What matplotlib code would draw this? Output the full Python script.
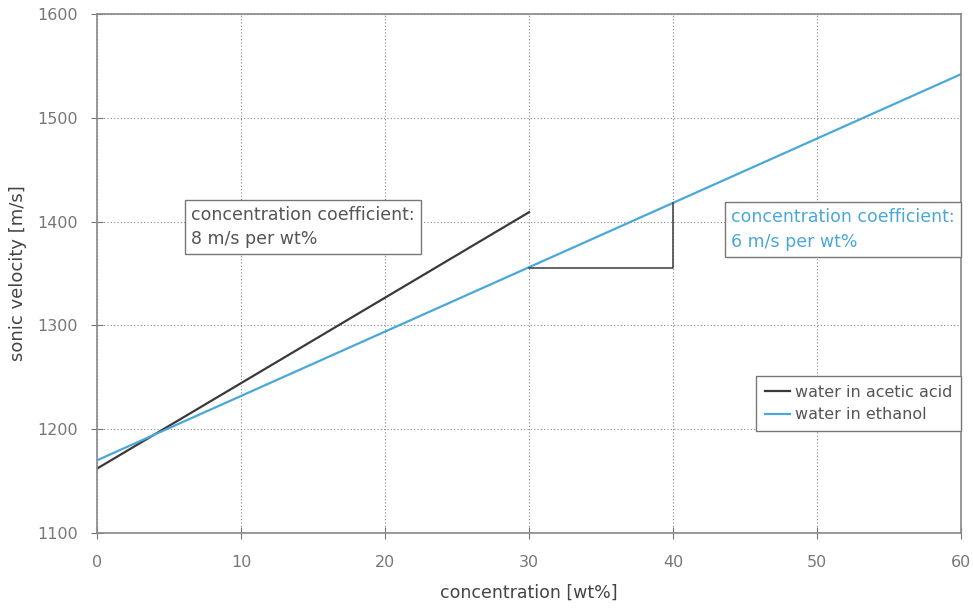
import matplotlib
matplotlib.use("Agg")
import matplotlib.pyplot as plt

acetic_x = [0, 30]
acetic_y = [1162, 1409]
ethanol_x = [0, 60]
ethanol_y = [1170, 1542]
tri_x = [30, 40, 40]
tri_y = [1355, 1355, 1418]
xticks = [0, 10, 20, 30, 40, 50, 60]
yticks = [1100, 1200, 1300, 1400, 1500, 1600]

plt.rcParams['font.family'] = ['DejaVu Sans']
grey = '#777777'
blue = '#4aa8d8'
dark = '#3a3a3a'

fig = plt.figure(figsize=(9.73, 6.08), dpi=100)
ax = fig.add_axes([0.0997, 0.1234, 0.888, 0.8536])
ax.plot(acetic_x, acetic_y, color=dark, lw=1.6, label='water in acetic acid')
ax.plot(ethanol_x, ethanol_y, color=blue, lw=1.6, label='water in ethanol')
ax.plot(tri_x, tri_y, color=dark, lw=1.1)

ax.set_xlim(0, 60)
ax.set_ylim(1100, 1600)
ax.set_xticks(xticks)
ax.set_yticks(yticks)
ax.grid(True, color='#888888', linestyle=(0, (1, 2)), lw=0.8)
ax.tick_params(direction='inout', length=8, color=grey, labelcolor=grey, labelsize=11.5)
ax.tick_params(axis='x', pad=12)
ax.tick_params(axis='y', pad=10)
for s in ax.spines.values():
    s.set_color('#888888')
    s.set_linewidth(1.2)

ax.set_xlabel('concentration [wt%]', color='#444444', fontsize=12.5, labelpad=10)
ax.set_ylabel('sonic velocity [m/s]', color='#444444', fontsize=13, labelpad=7)

bbox = dict(boxstyle='square,pad=0.35', fc='white', ec='#777777', lw=1.0)
ax.text(6.55, 1395, 'concentration coefficient:\n8 m/s per wt%', color='#555555',
        fontsize=12.5, va='center', ha='left', bbox=bbox, linespacing=1.45)
ax.text(44.05, 1392, 'concentration coefficient:\n6 m/s per wt%', color=blue,
        fontsize=12.5, va='center', ha='left', bbox=bbox, linespacing=1.5)

leg = ax.legend(loc='lower right', bbox_to_anchor=(1.0, 0.1965), borderaxespad=0,
                fontsize=11.5, handlelength=1.6, handletextpad=0.3, borderpad=0.55,
                fancybox=False, edgecolor='#777777', framealpha=1, labelspacing=0.45)
leg.get_frame().set_linewidth(1.0)
for t in leg.get_texts():
    t.set_color('#555555')

fig.savefig('out.png', dpi=100)
